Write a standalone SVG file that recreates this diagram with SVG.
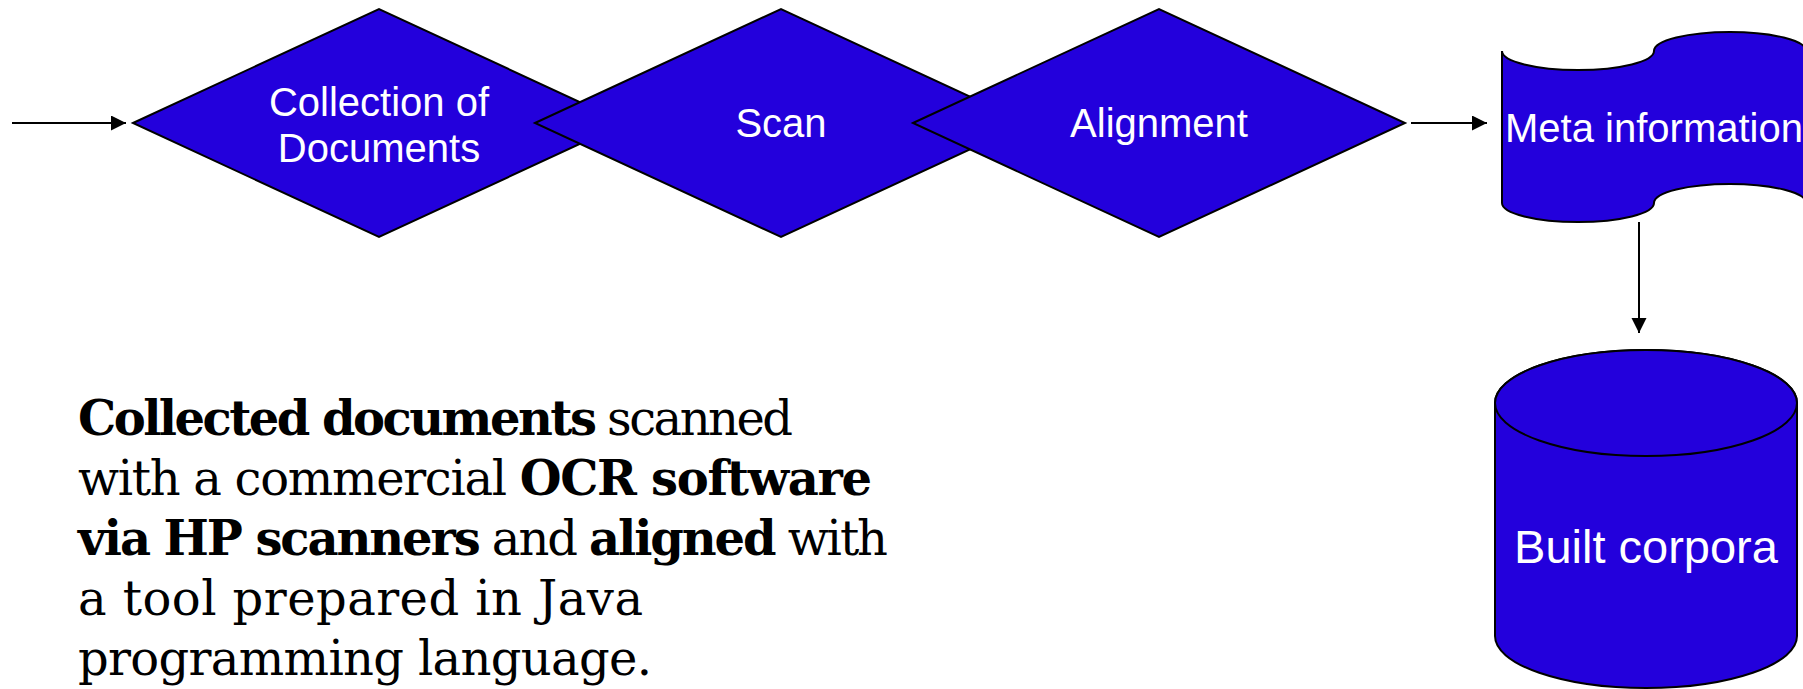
<svg xmlns="http://www.w3.org/2000/svg" width="1803" height="689" viewBox="0 0 1803 689">
<style>
.shape{fill:#2300DC;stroke:#000;stroke-width:2;stroke-linejoin:miter}
.lbl{fill:#fff;font-family:"Liberation Sans",Arial,sans-serif;font-size:40px;text-anchor:middle}
.conn{stroke:#000;stroke-width:2;fill:none}
.para{font-family:"DejaVu Serif","Liberation Serif",serif;font-size:48px;fill:#000}
.b{font-weight:bold}
</style>
<defs>
<marker id="ah" markerUnits="userSpaceOnUse" markerWidth="16" markerHeight="16" refX="15" refY="7.5" orient="auto">
<path d="M0,0 L15,7.5 L0,15 Z" fill="#000"/>
</marker>
</defs>
<g id="connectors">
<line class="conn" x1="12" y1="123" x2="126" y2="123" marker-end="url(#ah)"/>
<line class="conn" x1="1411" y1="123" x2="1487" y2="123" marker-end="url(#ah)"/>
<line class="conn" x1="1639" y1="222" x2="1639" y2="333" marker-end="url(#ah)"/>
</g>
<g id="collection">
<polygon class="shape" points="133,123 379,9 625,123 379,237"/>
<text class="lbl" x="379" y="116">Collection of</text>
<text class="lbl" x="379" y="162">Documents</text>
</g>
<g id="scan">
<polygon class="shape" points="535,123 781,9 1027,123 781,237"/>
<text class="lbl" x="781" y="137">Scan</text>
</g>
<g id="alignment">
<polygon class="shape" points="913,123 1159,9 1405,123 1159,237"/>
<text class="lbl" x="1159" y="137">Alignment</text>
</g>
<g id="meta">
<path class="shape" d="M1502,51 A76,19 0 0 0 1654,51 A76,19 0 0 1 1806,51 L1806,203 A76,19 0 0 0 1654,203 A76,19 0 0 1 1502,203 Z"/>
<text class="lbl" x="1654" y="142">Meta information</text>
</g>
<g id="corpora">
<path class="shape" d="M1495,403 L1495,636 A151,52 0 0 0 1797,636 L1797,403 A151,53 0 0 0 1495,403 Z"/>
<ellipse class="shape" cx="1646" cy="403" rx="151" ry="53"/>
<text class="lbl" x="1646" y="563" style="font-size:47px">Built corpora</text>
</g>
<g id="description">
<text class="para" x="78" y="435" textLength="715"><tspan class="b">Collected documents</tspan> scanned</text>
<text class="para" x="78" y="495" textLength="794">with a commercial <tspan class="b">OCR software</tspan></text>
<text class="para" x="78" y="555" textLength="810"><tspan class="b">via HP scanners</tspan> and <tspan class="b">aligned</tspan> with</text>
<text class="para" x="78" y="615" textLength="565">a tool prepared in Java</text>
<text class="para" x="78" y="675" textLength="574">programming language.</text>
</g>
</svg>
